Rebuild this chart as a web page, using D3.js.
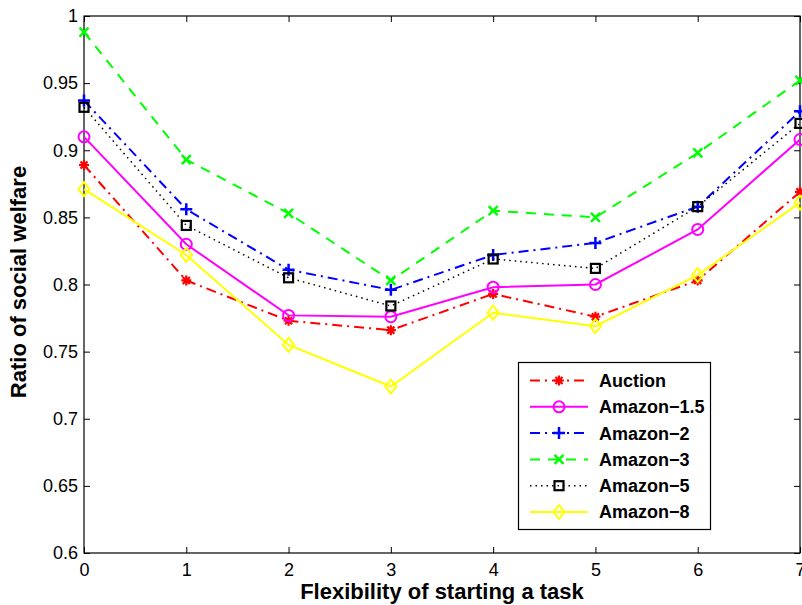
<!DOCTYPE html>
<html>
<head>
<meta charset="utf-8">
<script src="https://cdn.jsdelivr.net/npm/d3@7"></script>
<style>
  html, body { margin: 0; padding: 0; background: #fff; }
  svg { display: block; font-family: "Liberation Sans", Arial, sans-serif; }
</style>
</head>
<body>
<svg id="chart" width="802" height="605"></svg>
<script>
const xValues = [0, 1, 2, 3, 4, 5, 6, 7];
const auction   = [0.889, 0.803, 0.773, 0.766, 0.793, 0.776, 0.803, 0.869];
const amazon15  = [0.910, 0.830, 0.777, 0.776, 0.798, 0.800, 0.841, 0.908];
const amazon2   = [0.937, 0.856, 0.811, 0.796, 0.822, 0.831, 0.858, 0.929];
const amazon3   = [0.988, 0.893, 0.853, 0.803, 0.855, 0.850, 0.898, 0.952];
const amazon5   = [0.932, 0.844, 0.805, 0.784, 0.819, 0.812, 0.858, 0.920];
const amazon8   = [0.871, 0.822, 0.755, 0.724, 0.779, 0.769, 0.807, 0.861];
const seriesNames = ["Auction", "Amazon\u22121.5", "Amazon\u22122", "Amazon\u22123", "Amazon\u22125", "Amazon\u22128"];
const xTicks = [0, 1, 2, 3, 4, 5, 6, 7];
const yTicks = [0.6, 0.65, 0.7, 0.75, 0.8, 0.85, 0.9, 0.95, 1];
const xLabel = "Flexibility of starting a task";
const yLabel = "Ratio of social welfare";

const styles = [
  { color: "#ff0000", dash: "10,5,2,5", marker: "asterisk" },
  { color: "#ff00ff", dash: null, marker: "circle" },
  { color: "#0000ff", dash: "10,5,2,5", marker: "plus" },
  { color: "#00ff00", dash: "10,8", marker: "cross" },
  { color: "#000000", dash: "1.5,4", marker: "square", width: 1.5 },
  { color: "#ffff00", dash: null, marker: "diamond" }
];
const allSeries = [auction, amazon15, amazon2, amazon3, amazon5, amazon8];

const svg = d3.select("#chart");
const L = 84, R = 800, T = 16, B = 553;
const x = d3.scaleLinear().domain([0, 7]).range([L, R]);
const y = d3.scaleLinear().domain([0.6, 1]).range([B, T]);

// frame
svg.append("rect").attr("x", L).attr("y", T).attr("width", R - L).attr("height", B - T)
  .attr("fill", "none").attr("stroke", "#000").attr("stroke-width", 1.2);

// axes with inward ticks
const fmtY = d => d3.format("")(+d.toFixed(2));
const gx = svg.append("g").attr("transform", `translate(0,${B})`)
  .call(d3.axisBottom(x).tickValues(xTicks).tickSize(-6).tickPadding(10).tickFormat(d3.format("d")));
const gxt = svg.append("g").attr("transform", `translate(0,${T})`)
  .call(d3.axisTop(x).tickValues(xTicks).tickSize(-6).tickFormat(""));
const gy = svg.append("g").attr("transform", `translate(${L},0)`)
  .call(d3.axisLeft(y).tickValues(yTicks).tickSize(-6).tickPadding(6).tickFormat(fmtY));
const gyr = svg.append("g").attr("transform", `translate(${R},0)`)
  .call(d3.axisRight(y).tickValues(yTicks).tickSize(-6).tickFormat(""));
[gx, gxt, gy, gyr].forEach(g => {
  g.select(".domain").remove();
  g.selectAll(".tick line").attr("stroke", "#000").attr("stroke-width", 1);
  g.selectAll("text").attr("font-size", 18).attr("fill", "#000")
    .attr("font-family", "'Liberation Sans', Arial, sans-serif");
});
gx.selectAll("text").attr("dy", "0.71em");

// labels
svg.append("text").attr("x", 442).attr("y", 599).attr("text-anchor", "middle")
  .attr("font-size", 22).attr("font-weight", "bold").text(xLabel);
svg.append("text").attr("transform", `translate(26,282) rotate(-90)`)
  .attr("text-anchor", "middle").attr("font-size", 22).attr("font-weight", "bold").text(yLabel);

function drawMarker(g, type, color, cx, cy) {
  const sw = 2;
  if (type === "circle") {
    g.append("circle").attr("cx", cx).attr("cy", cy).attr("r", 5.5)
      .attr("fill", "none").attr("stroke", color).attr("stroke-width", sw);
  } else if (type === "square") {
    g.append("rect").attr("x", cx - 4.5).attr("y", cy - 4.5).attr("width", 9).attr("height", 9)
      .attr("fill", "none").attr("stroke", color).attr("stroke-width", 2.2);
  } else if (type === "diamond") {
    const s = 7;
    g.append("path").attr("d", `M${cx},${cy - s}L${cx + s * 0.8},${cy}L${cx},${cy + s}L${cx - s * 0.8},${cy}Z`)
      .attr("fill", "none").attr("stroke", color).attr("stroke-width", sw);
  } else if (type === "plus") {
    const s = 6;
    g.append("path").attr("d", `M${cx - s},${cy}H${cx + s}M${cx},${cy - s}V${cy + s}`)
      .attr("stroke", color).attr("stroke-width", 2.5);
  } else if (type === "cross") {
    const s = 4.5;
    g.append("path").attr("d", `M${cx - s},${cy - s}L${cx + s},${cy + s}M${cx - s},${cy + s}L${cx + s},${cy - s}`)
      .attr("stroke", color).attr("stroke-width", 2.5);
  } else if (type === "asterisk") {
    const s = 5;
    const d = s * 0.707;
    g.append("path").attr("d",
      `M${cx - s},${cy}H${cx + s}M${cx},${cy - s}V${cy + s}M${cx - d},${cy - d}L${cx + d},${cy + d}M${cx - d},${cy + d}L${cx + d},${cy - d}`)
      .attr("stroke", color).attr("stroke-width", 2.2);
  }
}

const line = d3.line().x((d, i) => x(xValues[i])).y(d => y(d));
const plot = svg.append("g");
allSeries.forEach((vals, k) => {
  const st = styles[k];
  const g = plot.append("g");
  g.append("path").datum(vals).attr("d", line).attr("fill", "none")
    .attr("stroke", st.color).attr("stroke-width", st.width || 2)
    .attr("stroke-dasharray", st.dash);
  vals.forEach((v, i) => drawMarker(g, st.marker, st.color, x(xValues[i]), y(v)));
});

// legend
const lg = svg.append("g");
lg.append("rect").attr("x", 518.5).attr("y", 362.5).attr("width", 192).attr("height", 167)
  .attr("fill", "#fff").attr("stroke", "#000").attr("stroke-width", 1.2);
seriesNames.forEach((name, k) => {
  const st = styles[k];
  const ly = 380.5 + k * 26.3;
  lg.append("line").attr("x1", 530).attr("x2", 588).attr("y1", ly).attr("y2", ly)
    .attr("stroke", st.color).attr("stroke-width", st.width || 2).attr("stroke-dasharray", st.dash);
  drawMarker(lg, st.marker, st.color, 559, ly);
  lg.append("text").attr("x", 599).attr("y", ly).attr("dy", "0.36em")
    .attr("font-size", 18).attr("font-weight", "bold").text(name);
});
</script>
</body>
</html>
